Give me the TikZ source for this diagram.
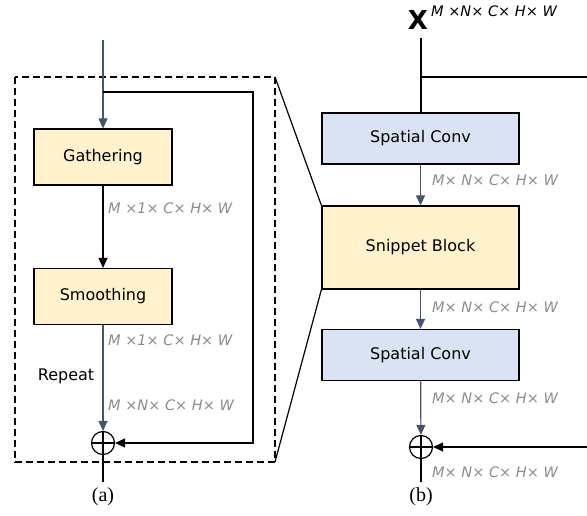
\documentclass[tikz,border=0pt]{standalone}
\usepackage{fontspec}
\setmainfont{DejaVu Sans}
\newfontfamily\capfont{Liberation Serif}
\usetikzlibrary{arrows.meta,positioning}
\definecolor{flowgray}{HTML}{44546A}
\definecolor{dimgray}{HTML}{8C8C8C}
\definecolor{boxyellow}{HTML}{FFF2CC}
\definecolor{boxblue}{HTML}{DAE3F3}
\begin{document}
\begin{tikzpicture}[x=1pt, y=-1pt,
					block/.style={draw=black, line width=1.2pt, inner sep=0pt, font=\fontsize{16}{18}\selectfont},
					dim/.style={anchor=west, inner sep=0pt, text=dimgray, font=\fontsize{14.5}{16}\selectfont\itshape},
					sum/.style={circle, draw=black, line width=1.2pt, minimum size=23pt, inner sep=0pt},
					post/.style={-{Triangle[width=9pt, length=10pt]}, line width=1.2pt},
					flow/.style={post, draw=flowgray, fill=flowgray},
					link/.style={line width=1.2pt}]
	\useasboundingbox (0,0) rectangle (587,516);
	% (a)
	\coordinate (ina) at (103,40);
	\coordinate (tapa) at (103,92);
	\coordinate (dashnw) at (15,77);
	\coordinate (dashse) at (275,462);
	\node[block, fill=boxyellow, minimum width=138pt, minimum height=56pt] (gather) at (103,157) {Gathering};
	\node[block, fill=boxyellow, minimum width=138pt, minimum height=56pt] (smooth) at (103,296.5) {Smoothing};
	\node[sum] (suma) at (103,443) {};
	\draw[link] (suma.north) -- (suma.south) (suma.west) -- (suma.east);
	\coordinate (outa) at (103,482);
	\draw[link, dash pattern=on 7pt off 4pt] (dashnw) rectangle (dashse);
	\draw[flow] (ina) -- (gather);
	\draw[post] (gather) -- (smooth);
	\draw[flow] (smooth) -- (suma);
	\draw[post] (tapa) -- (253,92) |- (suma);
	\draw[link] (suma) -- (outa);
	\node[dim] (dima1) at (108,208) {M ×1× C× H× W};
	\node[dim] (dima2) at (108,340) {M ×1× C× H× W};
	\node[dim] (dima3) at (108,405) {M ×N× C× H× W};
	\node[font=\fontsize{16}{18}\selectfont] (repeat) at (66,376) {Repeat};
	\node[font=\capfont\fontsize{20}{22}\selectfont] (capa) at (103,497) {(a)};
	% (b)
	\node[font=\fontsize{26}{28}\selectfont\bfseries, inner sep=0pt] (xin) at (418,20) {X};
	\node[anchor=west, inner sep=0pt, font=\fontsize{14.5}{16}\selectfont\itshape] (dimx) at (431,11) {M ×N× C× H× W};
	\coordinate (inb) at (421,38);
	\coordinate (tapb) at (421,77);
	\coordinate (edgetop) at (587,77);
	\coordinate (edgebot) at (587,447);
	\node[block, fill=boxblue, minimum width=197pt, minimum height=51pt] (conv1) at (420.5,138.5) {Spatial Conv};
	\node[block, fill=boxyellow, minimum width=197pt, minimum height=83pt] (snippet) at (420.5,247.5) {Snippet Block};
	\node[block, fill=boxblue, minimum width=197pt, minimum height=51pt] (conv2) at (420.5,355) {Spatial Conv};
	\node[sum] (sumb) at (421,447) {};
	\draw[link] (sumb.north) -- (sumb.south) (sumb.west) -- (sumb.east);
	\coordinate (outb) at (421,482);
	\draw[link] (inb) -- (conv1.north -| inb);
	\draw[link] (tapb) -- (edgetop);
	\draw[flow] (conv1) -- (snippet);
	\draw[flow] (snippet) -- (conv2);
	\draw[flow] (conv2) -- (sumb);
	\draw[post] (edgebot) -- (sumb);
	\draw[link] (sumb) -- (outb);
	\draw[link] (dashnw -| dashse) -- (snippet.north west);
	\draw[link] (dashse) -- (snippet.south west);
	\node[dim] (dimb1) at (432,180) {M× N× C× H× W};
	\node[dim] (dimb2) at (432,307) {M× N× C× H× W};
	\node[dim] (dimb3) at (432,398) {M× N× C× H× W};
	\node[dim] (dimb4) at (432,472) {M× N× C× H× W};
	\node[font=\capfont\fontsize{20}{22}\selectfont] (capb) at (421,497) {(b)};
\end{tikzpicture}
\end{document}
